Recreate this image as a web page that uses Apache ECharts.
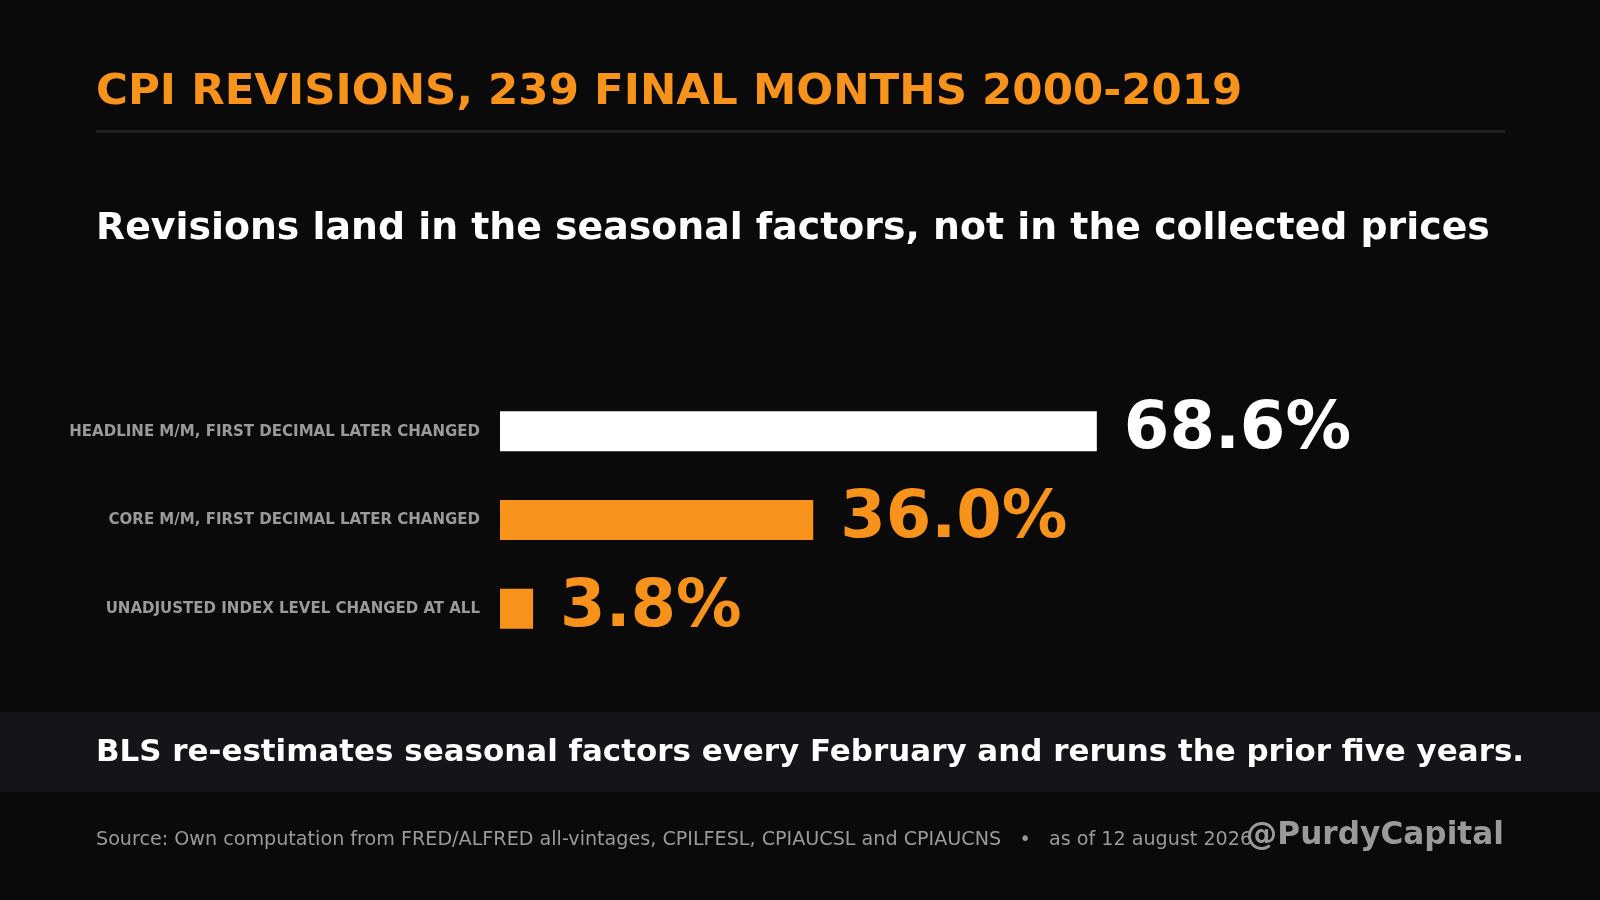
<!DOCTYPE html>
<html>
<head>
<meta charset="utf-8">
<script src="https://cdn.jsdelivr.net/npm/echarts@6/dist/echarts.min.js"></script>
<style>
html,body{margin:0;padding:0;background:#0a0a0a;}
#chart{width:1600px;height:900px;}
</style>
</head>
<body>
<div id="chart"></div>
<script>
const categories = [
  'HEADLINE M/M, FIRST DECIMAL LATER CHANGED',
  'CORE M/M, FIRST DECIMAL LATER CHANGED',
  'UNADJUSTED INDEX LEVEL CHANGED AT ALL'
];
const values = [68.6, 36.0, 3.8];
const barColors = ['#ffffff', '#f7931a', '#f7931a'];

const titleText = 'CPI REVISIONS, 239 FINAL MONTHS 2000-2019';
const subtitleText = 'Revisions land in the seasonal factors, not in the collected prices';
const footerText = 'BLS re-estimates seasonal factors every February and reruns the prior five years.';
const sourceText = 'Source: Own computation from FRED/ALFRED all-vintages, CPILFESL, CPIAUCSL and CPIAUCNS   \u2022   as of 12 august 2026';
const handleText = '@PurdyCapital';

const FONT = '"DejaVu Sans", sans-serif';
const FONT_COND = '"DejaVu Sans Condensed", "DejaVu Sans", sans-serif';
const chart = echarts.init(document.getElementById('chart'), null, {renderer: 'canvas'});

chart.setOption({
  backgroundColor: '#0a0a0a',
  animation: false,
  grid: {left: 500, width: 870, top: 387, height: 266, containLabel: false},
  xAxis: {
    type: 'value', min: 0, max: 100, show: false
  },
  yAxis: {
    type: 'category', data: categories, inverse: true,
    axisLine: {show: false}, axisTick: {show: false}, splitLine: {show: false},
    axisLabel: {color: '#9a9a9a', fontFamily: FONT_COND, fontWeight: 'bold', fontSize: 16.7, margin: 20}
  },
  series: [{
    type: 'bar',
    barWidth: 40,
    data: values.map((v, i) => ({
      value: v,
      itemStyle: {color: barColors[i]},
      label: {color: barColors[i]}
    })),
    label: {
      show: true, position: 'right', distance: 27,
      fontFamily: FONT, fontWeight: 'bold', fontSize: 65.5,
      formatter: p => p.value.toFixed(1) + '%'
    }
  }],
  graphic: [
    {type: 'rect', shape: {x: 96, y: 130, width: 1409, height: 3}, style: {fill: '#222226'}, silent: true},
    {type: 'rect', shape: {x: 0, y: 712, width: 1600, height: 80}, style: {fill: '#141419'}, silent: true},
    {type: 'text', x: 96, y: 93, style: {text: titleText, fill: '#f7931a', font: 'bold 43.5px ' + FONT, verticalAlign: 'middle'}},
    {type: 'text', x: 96, y: 229, style: {text: subtitleText, fill: '#ffffff', font: 'bold 37.85px ' + FONT, verticalAlign: 'middle'}},
    {type: 'text', x: 96, y: 753, style: {text: footerText, fill: '#ffffff', font: 'bold 30.95px ' + FONT, verticalAlign: 'middle'}},
    {type: 'text', x: 96, y: 840, style: {text: sourceText, fill: '#9a9a9a', font: '19.15px ' + FONT, verticalAlign: 'middle'}},
    {type: 'text', x: 1504, y: 836, style: {text: handleText, fill: '#9a9a9a', font: 'bold 31.2px ' + FONT, verticalAlign: 'middle', align: 'right'}}
  ]
});
</script>
</body>
</html>
